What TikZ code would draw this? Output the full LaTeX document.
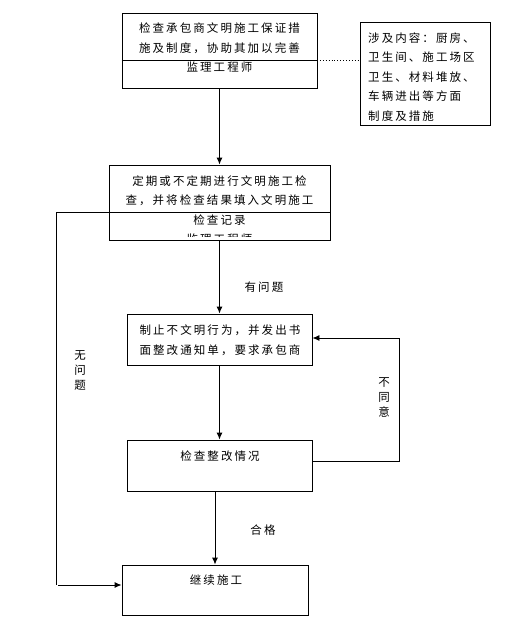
\documentclass[tikz,border=0pt]{standalone}
\usepackage{fontspec}
\newfontfamily\cjk[LetterSpace=18]{Noto Sans CJK SC}
\usetikzlibrary{arrows.meta}
\tikzset{
  box/.style={draw, line width=0.9pt, inner sep=0pt, fill=none},
  txt/.style={inner sep=0pt, align=center, font=\cjk\fontsize{11.5pt}{19.5pt}\selectfont},
  lbl/.style={inner sep=0pt, align=center, font=\cjk\fontsize{11.5pt}{15pt}\selectfont},
  conn/.style={line width=0.9pt},
  arr/.style={line width=0.9pt, -{Latex[length=7pt,width=6pt]}}
}
\begin{document}
\begin{tikzpicture}[x=1pt,y=-1pt]
\useasboundingbox[fill=white] (0,0) rectangle (511,638);
% boxes
\node[box, minimum width=195pt, minimum height=75pt] (b1) at (219.5,50.5) {};
\node[box, minimum width=130pt, minimum height=103pt] (b2) at (425,73.5) {};
\node[box, minimum width=221pt, minimum height=75pt] (b3) at (219.5,202.5) {};
\node[box, minimum width=185pt, minimum height=51pt] (b4) at (219.5,339.5) {};
\node[box, minimum width=185pt, minimum height=51pt] (b5) at (219.5,465.5) {};
\node[box, minimum width=186pt, minimum height=50pt] (b6) at (215,590) {};
% texts
\node[txt] (t1) at (219.5,48) {检查承包商文明施工保证措\\施及制度，协助其加以完善\\监理工程师};
\node[txt, align=left, anchor=west] (t2) at (368,77) {涉及内容：厨房、\\卫生间、施工场区\\卫生、材料堆放、\\车辆进出等方面\\制度及措施};
\begin{scope}
\clip (b3.north west) rectangle (b3.east |- 0,236);
\node[txt] (t3) at (219.5,210) {定期或不定期进行文明施工检\\查，并将检查结果填入文明施工\\检查记录\\监理工程师};
\end{scope}
\node[txt] (t4) at (220,340) {制止不文明行为，并发出书\\面整改通知单，要求承包商};
\node[txt] (t5) at (220,456) {检查整改情况};
\node[txt] (t6) at (216,580) {继续施工};
% labels
\node[lbl] (l1) at (264,287) {有问题};
\node[lbl] (l2) at (263,530) {合格};
\node[lbl] (l3) at (80,370) {无\\问\\题};
\node[lbl] (l4) at (384,397) {不\\同\\意};
% coordinates
\coordinate (d1) at (317,60);
\coordinate (d3) at (56,212);
\coordinate (c3) at (56,585);
\coordinate (c3b) at (58,585);
\coordinate (f1) at (399,461);
\coordinate (f2) at (399,338);
% lines
\draw[conn] (b1.west |- d1) -- (d1);
\draw[line width=0.9pt, dotted] (d1) -- (d1 -| b2.west);
\draw[conn] (d3) -- (d3 -| b3.east);
\draw[arr] (b1.south) -- (b3.north);
\draw[arr] (b3.south) -- (b4.north);
\draw[arr] (b4.south) -- (b5.north);
\draw[arr] (b5.south -| b6.north) -- (b6.north);
\draw[conn] (d3) -- (c3);
\draw[arr] (c3b) -- (c3b -| b6.west);
\draw[conn] (b5.east |- f1) -- (f1) -- (f2);
\draw[arr] (f2) -- (f2 -| b4.east);
\end{tikzpicture}
\end{document}
